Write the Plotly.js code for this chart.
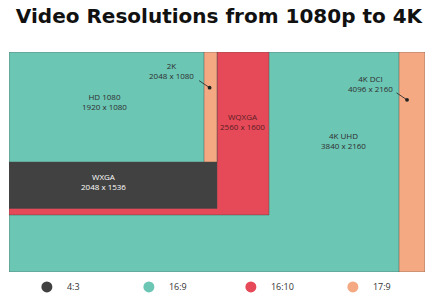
<!DOCTYPE html>
<html>
<head>
<meta charset="utf-8">
<script src="https://cdn.plot.ly/plotly-3.0.1.min.js"></script>
<style>
html,body{margin:0;padding:0;background:#fff;}
#chart{width:438px;height:297px;}
</style>
</head>
<body>
<div id="chart"></div>
<script>
// Data (drawing order: back to front)
const names   = ['4K DCI', '4K UHD', 'WQXGA', 'WXGA', '2K', 'HD 1080'];
const widths  = [4096, 3840, 2560, 2048, 2048, 1920];
const heights = [2160, 2160, 1600, 1536, 1080, 1080];
const ratios  = ['17:9', '16:9', '16:10', '4:3', '17:9', '16:9'];

const legendRatios = ['4:3', '16:9', '16:10', '17:9'];
const ratioColors = {'4:3': '#414141', '16:9': '#6cc6b4', '16:10': '#e64a58', '17:9': '#f4a982'};

const traces = [];
names.forEach((n, i) => {
  const w = widths[i], h = heights[i];
  traces.push({
    type: 'scatter', mode: 'lines',
    x: [0, w, w, 0, 0], y: [0, 0, h, h, 0],
    fill: 'toself', fillcolor: ratioColors[ratios[i]],
    line: {color: 'rgba(70,70,70,0.55)', width: 0.8},
    hoverinfo: 'skip', showlegend: false
  });
});
legendRatios.forEach(r => {
  traces.push({
    type: 'scatter', mode: 'markers', x: [null], y: [null],
    name: r, marker: {color: ratioColors[r], size: 11, symbol: 'circle'},
    showlegend: true
  });
});

// label positions (layout)
const labelPos = {
  '4K DCI': [3555, 307], '4K UHD': [3289, 868], 'WQXGA': [2295, 681],
  'WXGA': [928, 1267], '2K': [1597, 184], 'HD 1080': [938, 484]
};
const labelColor = {'WXGA': '#ffffff', 'WQXGA': '#5a1d24'};
const annotations = names.map((n, i) => ({
  x: labelPos[n][0], y: labelPos[n][1], xref: 'x', yref: 'y',
  text: n + '<br>' + widths[i] + ' x ' + heights[i],
  showarrow: false,
  font: {family: 'Open Sans, sans-serif', size: 8, color: labelColor[n] || '#2e2e2e'}
}));
// pointer lines with dots
annotations.push({x: 1975, y: 350, xref: 'x', yref: 'y', text: '', showarrow: true,
  ax: -12, ay: -8, arrowhead: 6, arrowsize: 1.2, arrowwidth: 0.8, arrowcolor: '#222'});
annotations.push({x: 3919, y: 470, xref: 'x', yref: 'y', text: '', showarrow: true,
  ax: -12, ay: -8, arrowhead: 6, arrowsize: 1.2, arrowwidth: 0.8, arrowcolor: '#222'});

const layout = {
  width: 438, height: 297,
  margin: {l: 8.7, r: 13, t: 52.3, b: 25.3, autoexpand: false},
  paper_bgcolor: '#ffffff', plot_bgcolor: '#ffffff',
  title: {text: '<b>Video Resolutions from 1080p to 4K</b>',
    font: {family: 'DejaVu Sans, sans-serif', size: 20, color: '#111'},
    x: 0.5, xanchor: 'center', y: 0.945, yanchor: 'middle'},
  xaxis: {range: [0, 4096], visible: false, fixedrange: true},
  yaxis: {range: [2160, 0], visible: false, fixedrange: true},
  showlegend: true,
  legend: {orientation: 'h', x: 0.043, xanchor: 'left', y: -0.068, yanchor: 'middle',
    font: {family: 'Open Sans, sans-serif', size: 9, color: '#333'},
    entrywidth: 57, entrywidthmode: 'pixels', itemwidth: 30,
    bgcolor: 'rgba(0,0,0,0)'},
  annotations: annotations
};

Plotly.newPlot('chart', traces, layout, {displayModeBar: false, staticPlot: true});
</script>
</body>
</html>
